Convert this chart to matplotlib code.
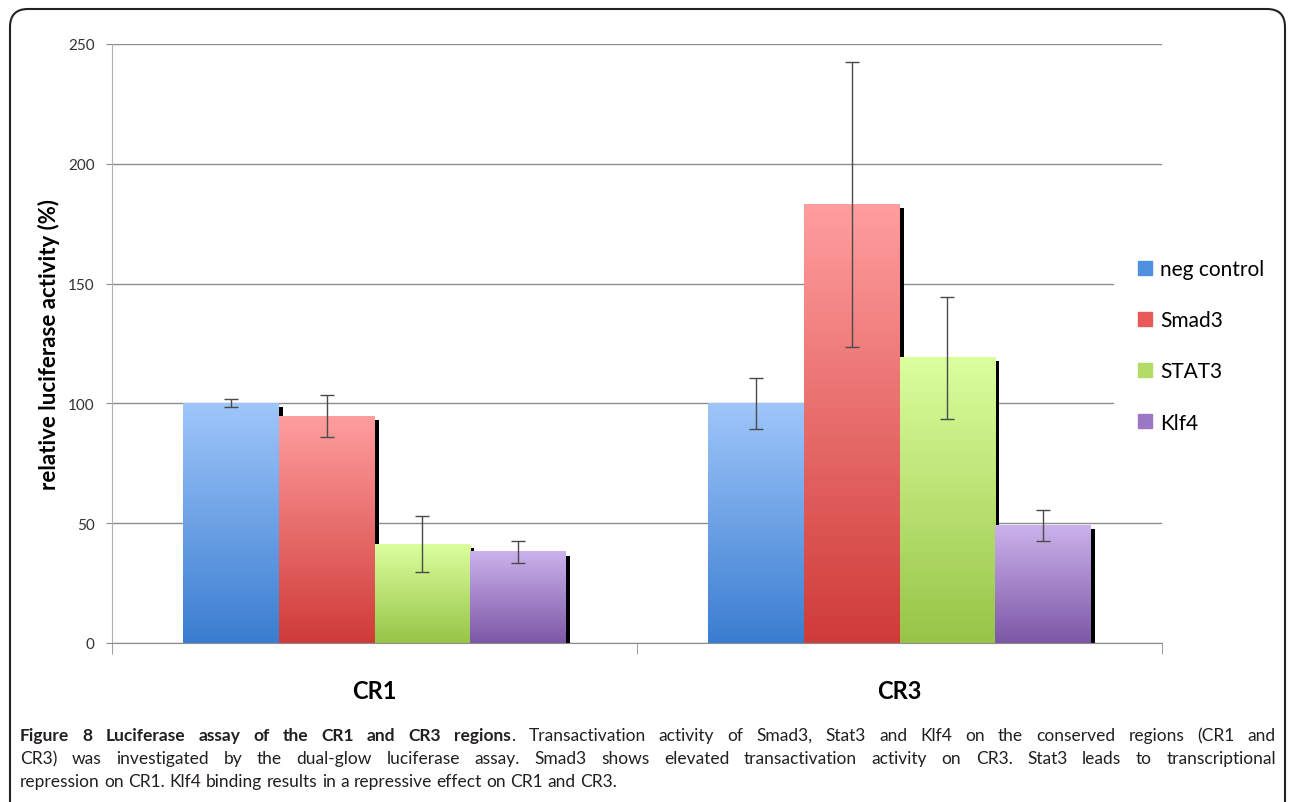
import numpy as np
import matplotlib.pyplot as plt
from matplotlib.colors import LinearSegmentedColormap
from matplotlib.patches import Rectangle, FancyBboxPatch
from matplotlib.lines import Line2D

# data
regions = ['CR1', 'CR3']
series = ['neg control', 'Smad3', 'STAT3', 'Klf4']
values = {
    'neg control': [100, 100],
    'Smad3': [94.7, 183],
    'STAT3': [41.2, 119],
    'Klf4': [38, 49.2],
}
errors = {
    'neg control': [1.7, 10.5],
    'Smad3': [8.8, 59.5],
    'STAT3': [11.7, 25.5],
    'Klf4': [4.7, 6.5],
}
# (bottom colour, top colour) of each gradient
grad = {
    'neg control': ('#3a7dd0', '#9fc6fa'),
    'Smad3': ('#cf3b38', '#ff9e9e'),
    'STAT3': ('#98c447', '#daff9e'),
    'Klf4': ('#7d57a6', '#cbb2ec'),
}
legend_col = {
    'neg control': '#4f8fe0',
    'Smad3': '#e85a58',
    'STAT3': '#b2dc66',
    'Klf4': '#9a78c4',
}
yticks = [0, 50, 100, 150, 200, 250]

chart_font = ['Lato', 'DejaVu Sans']
cap_font = ['Lato', 'DejaVu Sans']

fig = plt.figure(figsize=(12.9, 8.03), dpi=100)
ax = fig.add_axes([112/1290, 159/803, 1050/1290, 599/803])

bw = 0.182
dx = 4/525        # shadow offset, about 4 px
dy = 1.5
grad_img = np.linspace(0, 1, 256).reshape(-1, 1)

for i, name in enumerate(series):
    cmap = LinearSegmentedColormap.from_list(name, grad[name])
    for j, r in enumerate(regions):
        x0 = j + (i - 2) * bw
        h = values[name][j]
        # shadow
        ax.add_patch(Rectangle((x0 + dx, 0), bw, h - dy, color='black', zorder=1, lw=0))
        ax.imshow(grad_img, extent=[x0, x0 + bw, 0, h], origin='lower',
                  cmap=cmap, aspect='auto', zorder=2, interpolation='bilinear')
        ax.errorbar(x0 + bw/2, h, yerr=errors[name][j], fmt='none',
                    ecolor='#4a4a4a', elinewidth=1, capsize=5, capthick=1, zorder=3)

ax.set_xlim(-0.5, 1.5)
ax.set_ylim(0, 250)

ax.set_yticks(yticks)
ax.set_yticklabels([str(t) for t in yticks], fontsize=11, color='#333333', family=chart_font)
ax.yaxis.grid(True, color='#8c8c8c', lw=1, zorder=0)
ax.set_axisbelow(True)
ax.tick_params(axis='y', length=4, color='#8c8c8c', pad=8.5)

ax.set_xticks([0, 1])
ax.set_xticklabels(regions, fontsize=17, fontweight='bold', family=chart_font)
ax.set_xticks([-0.5, 0.5, 1.5], minor=True)
ax.tick_params(axis='x', which='major', length=0, pad=26)
ax.tick_params(axis='x', which='minor', length=8, color='#8c8c8c')

for s in ['top', 'right']:
    ax.spines[s].set_visible(False)
ax.spines['left'].set_color('#b0b0b0')
ax.spines['bottom'].set_color('#8c8c8c')

ax.set_ylabel('relative luciferase activity (%)', fontsize=16, fontweight='bold',
              family=chart_font, labelpad=6)

# legend sits on a white box over the right end of the plot
handles = [Line2D([], [], marker='s', ls='none', markersize=9.5, color=legend_col[s]) for s in series]
leg = fig.legend(handles, series, loc='upper left', bbox_to_anchor=(1114/1290, 1 - 237/803),
                 borderaxespad=0, frameon=True, facecolor='white', edgecolor='none',
                 framealpha=1, fancybox=False, borderpad=1.1,
                 prop={'family': chart_font, 'size': 15},
                 labelspacing=1.5, handletextpad=0.33, handlelength=0.8)

# rounded frame round the figure, drawn over everything
frame = FancyBboxPatch((0.1, -1.0), 12.75, 8.93,
                       boxstyle='round,pad=0,rounding_size=0.18',
                       transform=fig.dpi_scale_trans, fill=False,
                       ec='#222222', lw=1.5, zorder=20)
fig.patches.append(frame)

# caption, justified word by word
cap_lines = [
    [('Figure 8 Luciferase assay of the CR1 and CR3 regions', 'bold'),
     ('. Transactivation activity of Smad3, Stat3 and Klf4 on the conserved regions (CR1 and', 'normal')],
    [('CR3) was investigated by the dual-glow luciferase assay. Smad3 shows elevated transactivation activity on CR3. Stat3 leads to transcriptional', 'normal')],
    [('repression on CR1. Klf4 binding results in a repressive effect on CR1 and CR3.', 'normal')],
]
justify = [True, True, False]
left_px, right_px = 20, 1276
base_px = [741, 764, 787]
cap_size = 12.5
renderer = fig.canvas.get_renderer()

t1 = fig.text(0, 0, 'a a', fontsize=cap_size, family=cap_font)
t2 = fig.text(0, 0, 'aa', fontsize=cap_size, family=cap_font)
space = t1.get_window_extent(renderer).width - t2.get_window_extent(renderer).width
t1.remove()
t2.remove()

for line, just, base in zip(cap_lines, justify, base_px):
    words = []
    for chunk, weight in line:
        for k, w in enumerate(chunk.split(' ')):
            if w == '':
                continue
            # a chunk starting with '.' sticks to the word before it
            glue = (k == 0 and len(words) > 0 and w[0] in '.,')
            words.append([w, weight, glue])
    texts = []
    for w, weight, glue in words:
        t = fig.text(0, 1 - base/803, w, fontsize=cap_size, fontweight=weight, family=cap_font,
                     color='#231f20', va='baseline', ha='left')
        texts.append(t)
    widths = [t.get_window_extent(renderer).width for t in texts]
    n_gaps = sum(1 for w in words[1:] if not w[2])
    if just and n_gaps:
        gap = (right_px - left_px - sum(widths)) / n_gaps
    else:
        gap = space
    x = left_px
    for t, wd, w in zip(texts, widths, words):
        if w[2]:
            x -= gap
        t.set_x(x / 1290)
        x += wd + gap

fig.savefig('out.png', dpi=100)
